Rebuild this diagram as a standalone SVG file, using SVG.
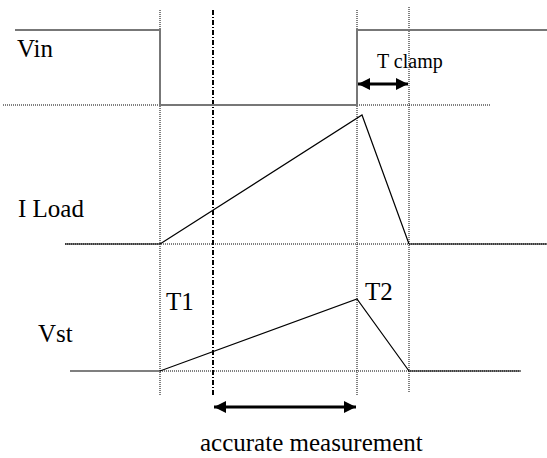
<svg xmlns="http://www.w3.org/2000/svg" width="547" height="458" viewBox="0 0 547 458">
<defs>
<style>
text{font-family:'Liberation Serif','Times New Roman',serif;font-size:25px;fill:#000}
.sm{font-size:20px}
.dot{stroke:#000;stroke-width:1;stroke-dasharray:1 1;fill:none}
.dd{stroke:#000;stroke-width:2;stroke-dasharray:5 2 1 2;fill:none}
.sig{stroke:#777;stroke-width:2;fill:none}
.wave{stroke:#000;stroke-width:1.2;fill:none}
.arr{stroke:#000;stroke-width:3;fill:none}
</style>
<marker id="ah" viewBox="0 0 10 10" refX="10" refY="5" markerWidth="5" markerHeight="4" markerUnits="strokeWidth" orient="auto-start-reverse">
<path d="M0,0 L10,5 L0,10 Z" fill="#000"/>
</marker>
</defs>
<rect width="547" height="458" fill="#fff"/>
<g id="connectors">
<line class="dot" x1="160" y1="10" x2="160" y2="395"/>
<line class="dd" x1="213" y1="10" x2="213" y2="397"/>
<line class="dot" x1="357" y1="10" x2="357" y2="395"/>
<line class="dot" x1="409" y1="7" x2="409" y2="392"/>
<line class="dot" x1="3" y1="105" x2="490" y2="105"/>
<line class="sig" x1="65" y1="244" x2="160" y2="244"/>
<line class="sig" x1="409" y1="244" x2="547" y2="244"/>
<line class="dot" x1="65" y1="244" x2="547" y2="244"/>
<line class="dot" x1="160" y1="371" x2="522" y2="371"/>
</g>
<g id="vin">
<polyline class="sig" points="15,30 160,30 160,105 357,105 357,30 547,30"/>
<text x="17" y="57">Vin</text>
</g>
<g id="iload">
<polyline class="wave" points="160,244 362,115 409,244"/>
<text x="18" y="217">I Load</text>
</g>
<g id="vst">
<polyline class="wave" points="70,371 160,371 357,299 409,371 520,371"/>
<text x="38" y="342">Vst</text>
<text x="166" y="310">T1</text>
<text x="365" y="300">T2</text>
</g>
<g id="tclamp">
<line class="arr" x1="358" y1="84" x2="408" y2="84" stroke-width="2.5" marker-start="url(#ah)" marker-end="url(#ah)"/>
<text class="sm" x="377" y="68">T clamp</text>
</g>
<g id="measure">
<line class="arr" x1="214" y1="407" x2="356" y2="407" marker-start="url(#ah)" marker-end="url(#ah)"/>
<text x="200" y="451">accurate measurement</text>
</g>
</svg>
